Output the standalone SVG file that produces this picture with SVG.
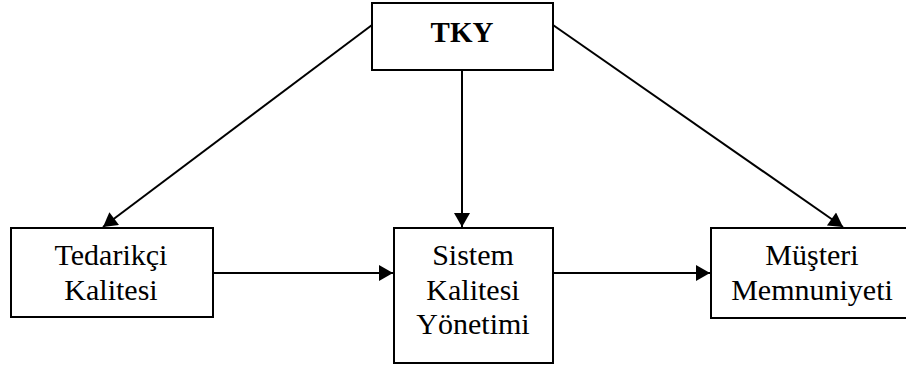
<svg xmlns="http://www.w3.org/2000/svg" width="906" height="370" viewBox="0 0 906 370">
  <style>
    .box { fill: #ffffff; stroke: #000000; stroke-width: 2; }
    .lbl { font-family: "Liberation Serif", "Times New Roman", serif; font-size: 30px; fill: #000000; text-anchor: middle; }
    .bold { font-weight: bold; font-size: 29px; }
    .edge { stroke: #000000; stroke-width: 2; fill: none; marker-end: url(#arrow); }
  </style>
  <defs>
    <marker id="arrow" markerUnits="userSpaceOnUse" markerWidth="16" markerHeight="16" viewBox="0 0 14 16" refX="14" refY="8" orient="auto">
      <path d="M0,0 L14,8 L0,16 Z" fill="#000000"/>
    </marker>
  </defs>
  <rect width="906" height="370" fill="#ffffff"/>

  <g id="connectors">
    <line class="edge" x1="372" y1="25" x2="103" y2="227"/>
    <line class="edge" x1="462" y1="70" x2="462" y2="227"/>
    <line class="edge" x1="553" y1="25" x2="843" y2="227"/>
    <line class="edge" x1="213" y1="273" x2="393" y2="273"/>
    <line class="edge" x1="553" y1="273" x2="710" y2="273"/>
  </g>

  <g id="tky">
    <rect class="box" x="372" y="3" width="181" height="67"/>
    <text class="lbl bold" x="462" y="42">TKY</text>
  </g>

  <g id="tedarikci">
    <rect class="box" x="11" y="228" width="202" height="89"/>
    <text class="lbl" x="111" y="265">Tedarikçi</text>
    <text class="lbl" x="111" y="300">Kalitesi</text>
  </g>

  <g id="sistem">
    <rect class="box" x="394" y="228" width="159" height="135"/>
    <text class="lbl" x="473" y="265">Sistem</text>
    <text class="lbl" x="473" y="300">Kalitesi</text>
    <text class="lbl" x="473" y="334">Yönetimi</text>
  </g>

  <g id="musteri">
    <rect class="box" x="711" y="228" width="202" height="90"/>
    <text class="lbl" x="812" y="265">Müşteri</text>
    <text class="lbl" x="812" y="300">Memnuniyeti</text>
  </g>
</svg>
